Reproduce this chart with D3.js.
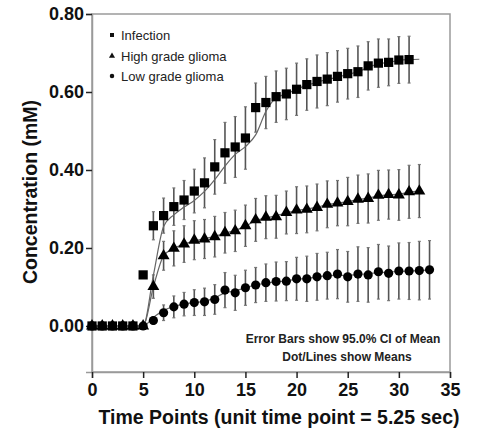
<!DOCTYPE html>
<html>
<head>
<meta charset="utf-8">
<script src="https://cdn.jsdelivr.net/npm/d3@7"></script>
<style>
  body { margin: 0; background: #fff; }
  text { font-family: "Liberation Sans", Arial, sans-serif; }
</style>
</head>
<body>
<div id="chart"></div>
<script>
'use strict';

// time points 0..33
var timePoints = [0, 1, 2, 3, 4, 5, 6, 7, 8, 9, 10, 11, 12, 13, 14, 15, 16,
    17, 18, 19, 20, 21, 22, 23, 24, 25, 26, 27, 28, 29, 30, 31, 32, 33];

var seriesNames = ["Infection", "High grade glioma", "Low grade glioma"];

// means (mM)
var infectionMean = [0, 0, 0, 0, 0, 0.131, 0.257, 0.283, 0.306, 0.323, 0.346, 0.367,
    0.408, 0.444, 0.459, 0.482, 0.560, 0.573, 0.588, 0.595, 0.607, 0.619, 0.627,
    0.633, 0.640, 0.647, 0.652, 0.667, 0.674, 0.676, 0.682, 0.683];
var highMean = [0, 0, 0, 0, 0, 0, 0.101, 0.180, 0.199, 0.210, 0.220, 0.223, 0.229,
    0.239, 0.244, 0.257, 0.272, 0.279, 0.280, 0.291, 0.297, 0.299, 0.304, 0.312,
    0.315, 0.319, 0.325, 0.327, 0.335, 0.337, 0.336, 0.344, 0.346];
var lowMean = [0, 0, 0, 0, 0, 0, 0.014, 0.034, 0.049, 0.056, 0.060, 0.062, 0.068,
    0.092, 0.085, 0.098, 0.105, 0.111, 0.114, 0.115, 0.121, 0.121, 0.126, 0.129,
    0.133, 0.126, 0.133, 0.131, 0.139, 0.135, 0.141, 0.141, 0.142, 0.144];

// 95% CI half widths
var infectionCI = [0, 0, 0, 0, 0, 0, 0.036, 0.045, 0.048, 0.050, 0.056, 0.064,
    0.070, 0.078, 0.078, 0.080, 0.063, 0.067, 0.066, 0.066, 0.067, 0.066, 0.068,
    0.068, 0.066, 0.065, 0.066, 0.062, 0.062, 0.060, 0.060, 0.060];
var highCI = [0, 0, 0, 0, 0, 0, 0.030, 0.037, 0.045, 0.047, 0.050, 0.050, 0.052,
    0.052, 0.053, 0.053, 0.055, 0.055, 0.055, 0.055, 0.060, 0.060, 0.060, 0.060,
    0.058, 0.062, 0.062, 0.063, 0.064, 0.063, 0.065, 0.068, 0.068];
var lowCI = [0, 0, 0, 0, 0, 0, 0.010, 0.020, 0.028, 0.030, 0.033, 0.035, 0.038,
    0.045, 0.045, 0.045, 0.045, 0.048, 0.050, 0.050, 0.055, 0.058, 0.060, 0.060,
    0.063, 0.065, 0.070, 0.070, 0.070, 0.070, 0.072, 0.073, 0.075, 0.075];

// the drawn lines (smoothed means)
var infectionLine = [0, 0, 0, 0, 0, 0, 0.130, 0.255, 0.285, 0.305, 0.322, 0.345,
    0.375, 0.410, 0.440, 0.460, 0.490, 0.550, 0.585, 0.595, 0.607, 0.617, 0.625,
    0.632, 0.638, 0.645, 0.652, 0.663, 0.672, 0.676, 0.681, 0.683, 0.684];
var highLine = [0, 0, 0, 0, 0, 0, 0.100, 0.180, 0.199, 0.210, 0.218, 0.224, 0.230,
    0.238, 0.245, 0.256, 0.270, 0.277, 0.283, 0.290, 0.296, 0.300, 0.305, 0.311,
    0.315, 0.319, 0.324, 0.328, 0.333, 0.336, 0.338, 0.343, 0.346];
var lowLine = [0, 0, 0, 0, 0, 0, 0.022, 0.040, 0.050, 0.056, 0.060, 0.063, 0.072,
    0.085, 0.090, 0.098, 0.105, 0.110, 0.113, 0.116, 0.120, 0.122, 0.126, 0.129,
    0.130, 0.130, 0.132, 0.134, 0.137, 0.138, 0.140, 0.141, 0.142, 0.144];

var xTicks = [0, 5, 10, 15, 20, 25, 30, 35];
var yTicks = [0, 0.2, 0.4, 0.6, 0.8];

var WIDTH = 478, HEIGHT = 429,
    PLOT = {LEFT: 92, RIGHT: 450, TOP: 14, BOTTOM: 372};

var svg = d3.select("#chart").append("svg")
    .attr("width", WIDTH)
    .attr("height", HEIGHT);

var x = d3.scaleLinear().domain([0, 35]).range([PLOT.LEFT, PLOT.RIGHT]);
var y = d3.scaleLinear().domain([-0.118, 0.8]).range([PLOT.BOTTOM, PLOT.TOP]);

// frame
svg.append("rect")
    .attr("x", PLOT.LEFT).attr("y", PLOT.TOP)
    .attr("width", PLOT.RIGHT - PLOT.LEFT)
    .attr("height", PLOT.BOTTOM - PLOT.TOP)
    .attr("fill", "none")
    .attr("stroke", "#9a9a9a")
    .attr("stroke-width", 1.5);

// axes
var yAxis = svg.append("g")
    .attr("transform", "translate(" + PLOT.LEFT + ",0)")
    .call(d3.axisLeft(y).tickValues(yTicks).tickFormat(d3.format(".2f"))
        .tickSize(6).tickPadding(2));
var xAxis = svg.append("g")
    .attr("transform", "translate(0," + PLOT.BOTTOM + ")")
    .call(d3.axisBottom(x).tickValues(xTicks).tickSize(6).tickPadding(5));

[xAxis, yAxis].forEach(function (g) {
    g.select(".domain").attr("stroke", "#9a9a9a").attr("stroke-width", 1.5);
    g.selectAll(".tick line").attr("stroke", "#222").attr("stroke-width", 1.5);
    g.selectAll(".tick text")
        .attr("fill", "#111")
        .style("font-size", "18px")
        .style("font-weight", "bold")
        .style("font-family", "'Liberation Sans', Arial, sans-serif");
});

// axis titles
svg.append("text")
    .attr("x", (PLOT.LEFT + 460) / 2 + 3)
    .attr("y", 424)
    .attr("text-anchor", "middle")
    .attr("fill", "#111")
    .style("font-size", "19.5px")
    .style("font-weight", "bold")
    .text("Time Points (unit time point = 5.25 sec)");

svg.append("text")
    .attr("transform", "translate(37," + ((PLOT.TOP + PLOT.BOTTOM) / 2 - 1) + ") rotate(-90)")
    .attr("text-anchor", "middle")
    .attr("fill", "#111")
    .style("font-size", "19.5px")
    .style("font-weight", "bold")
    .text("Concentration (mM)");

function toPoints(means, ci) {
    return means.map(function (v, i) {
        return {t: timePoints[i], v: v, e: ci[i]};
    });
}

var series = [
    {name: seriesNames[0], pts: toPoints(infectionMean, infectionCI), line: infectionLine,
        symbol: d3.symbolSquare, size: 85},
    {name: seriesNames[1], pts: toPoints(highMean, highCI), line: highLine,
        symbol: d3.symbolTriangle, size: 62},
    {name: seriesNames[2], pts: toPoints(lowMean, lowCI), line: lowLine,
        symbol: d3.symbolCircle, size: 66}
];

// error bars
var bars = svg.append("g").attr("id", "errorbars");
series.forEach(function (s) {
    var pts = s.pts.filter(function (d) { return d.e > 0; });
    var g = bars.selectAll(null).data(pts).enter().append("g");
    g.append("line")
        .attr("x1", function (d) { return x(d.t); })
        .attr("x2", function (d) { return x(d.t); })
        .attr("y1", function (d) { return y(d.v - d.e); })
        .attr("y2", function (d) { return y(d.v + d.e); })
        .attr("stroke", "#555").attr("stroke-width", 1.6);
    [-1, 1].forEach(function (sgn) {
        g.append("line")
            .attr("x1", function (d) { return x(d.t) - 1.5; })
            .attr("x2", function (d) { return x(d.t) + 1.5; })
            .attr("y1", function (d) { return y(d.v + sgn * d.e); })
            .attr("y2", function (d) { return y(d.v + sgn * d.e); })
            .attr("stroke", "#777").attr("stroke-width", 1.2);
    });
});

// mean lines
var lineGen = d3.line()
    .x(function (d, i) { return x(timePoints[i]); })
    .y(function (d) { return y(d); })
    .curve(d3.curveMonotoneX);

svg.append("g").attr("id", "lines").selectAll("path")
    .data(series).enter().append("path")
    .attr("d", function (s) { return lineGen(s.line); })
    .attr("fill", "none")
    .attr("stroke", "#666")
    .attr("stroke-width", 1.2);

// markers
series.forEach(function (s) {
    svg.append("g").selectAll("path")
        .data(s.pts).enter().append("path")
        .attr("transform", function (d) { return "translate(" + x(d.t) + "," + y(d.v) + ")"; })
        .attr("d", d3.symbol().type(s.symbol).size(s.size))
        .attr("fill", "#000");
});

// legend
var legend = svg.append("g").attr("id", "legend");
var legendSize = [16, 16, 16];
series.forEach(function (s, i) {
    var ly = [35, 56, 76][i];
    legend.append("path")
        .attr("transform", "translate(112," + ly + ")")
        .attr("d", d3.symbol().type(s.symbol).size(legendSize[i]))
        .attr("fill", "#111");
    legend.append("text")
        .attr("x", 121)
        .attr("y", ly + 4.5)
        .attr("fill", "#222")
        .style("font-size", "13px")
        .text(s.name);
});

// note
var notes = [
    {text: "Error Bars show 95.0% CI of Mean", cx: 343, by: 342.5},
    {text: "Dot/Lines show Means", cx: 347, by: 361}
];
svg.append("g").selectAll("text")
    .data(notes).enter().append("text")
    .attr("x", function (d) { return d.cx; })
    .attr("y", function (d) { return d.by; })
    .attr("text-anchor", "middle")
    .attr("fill", "#222")
    .style("font-size", "12px")
    .style("font-weight", "bold")
    .text(function (d) { return d.text; });
</script>
</body>
</html>
